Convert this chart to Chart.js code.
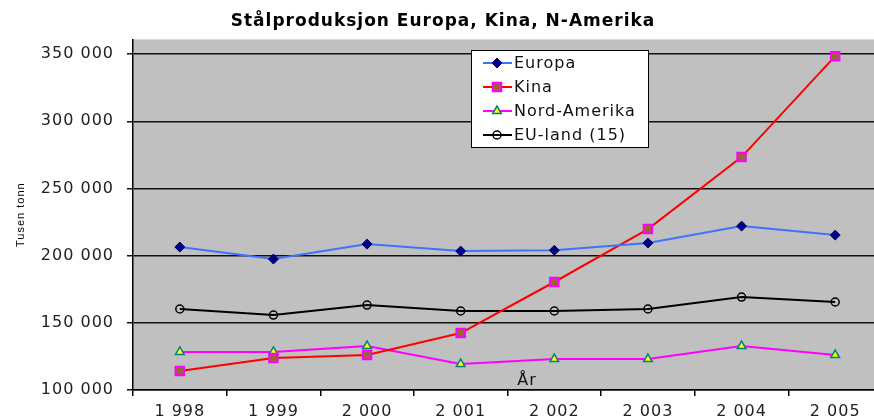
<!DOCTYPE html>
<html>
<head>
<meta charset="utf-8">
<script src="https://cdn.jsdelivr.net/npm/chart.js@4/dist/chart.umd.min.js"></script>
<style>
  html, body { margin: 0; padding: 0; background: #fff; overflow: hidden; width: 874px; height: 419px; }
  canvas { display: block; }
</style>
</head>
<body>
<canvas id="c" width="890" height="419"></canvas>
<script>
// data (tusen tonn)
const years = ['1 998', '1 999', '2 000', '2 001', '2 002', '2 003', '2 004', '2 005'];
const europa = [206400, 197500, 208600, 203400, 204000, 209400, 222000, 215300];
const kina = [114100, 123800, 126000, 142400, 180400, 219800, 273400, 348500];
const nordAmerika = [128300, 128300, 132700, 119300, 123000, 123000, 132700, 126000];
const euLand = [160300, 155800, 163200, 158800, 158800, 160300, 169200, 165500];
const yTicks = [100000, 150000, 200000, 250000, 300000, 350000];

const fmt = v => String(v).replace(/\B(?=(\d{3})+(?!\d))/g, ' ');
const tickFont = { family: 'DejaVu Sans', size: 16 };

// plot background, "År" label and the boxed legend
const decor = {
  id: 'decor',
  beforeDraw(chart) {
    const { ctx, chartArea: a } = chart;
    ctx.letterSpacing = '1px';
    ctx.save();
    ctx.fillStyle = '#c0c0c0';
    ctx.fillRect(a.left, a.top, a.right - a.left, a.bottom - a.top);
    ctx.restore();
  },
  afterDatasetsDraw(chart) {
    const ctx = chart.ctx;
    ctx.save();
    ctx.font = '16px "DejaVu Sans"';
    ctx.fillStyle = '#111';
    ctx.textAlign = 'center';
    ctx.textBaseline = 'middle';
    ctx.fillText('År', 527, 381);

    // legend box
    ctx.fillStyle = '#fff';
    ctx.fillRect(471, 50, 177, 97);
    ctx.strokeStyle = '#000';
    ctx.lineWidth = 1;
    ctx.strokeRect(471.5, 50.5, 177, 97);

    chart.data.datasets.forEach((ds, i) => {
      const y = 63 + i * 24;
      ctx.strokeStyle = ds.borderColor;
      ctx.lineWidth = 2;
      ctx.beginPath();
      ctx.moveTo(483, y);
      ctx.lineTo(512, y);
      ctx.stroke();
      ctx.fillStyle = ds.pointBackgroundColor;
      ctx.strokeStyle = ds.pointBorderColor;
      ctx.lineWidth = ds.pointBorderWidth;
      Chart.helpers.drawPoint(ctx, {
        pointStyle: ds.pointStyle, radius: ds.pointRadius, rotation: 0, borderWidth: ds.pointBorderWidth
      }, 497, y);
      ctx.fillStyle = '#111';
      ctx.textAlign = 'left';
      ctx.fillText(ds.label, 514, y + 1);
    });
    ctx.restore();
  }
};

new Chart(document.getElementById('c'), {
  type: 'line',
  data: {
    labels: years,
    datasets: [
      {
        label: 'Europa', data: europa,
        borderColor: '#3d73ff', borderWidth: 2,
        pointStyle: 'rectRot', pointRadius: 5,
        pointBackgroundColor: '#000080', pointBorderColor: '#000080', pointBorderWidth: 1
      },
      {
        label: 'Kina', data: kina,
        borderColor: '#ff0000', borderWidth: 2,
        pointStyle: 'rect', pointRadius: 6,
        pointBackgroundColor: '#996633', pointBorderColor: '#ff00ff', pointBorderWidth: 2
      },
      {
        label: 'Nord-Amerika', data: nordAmerika,
        borderColor: '#ff00ff', borderWidth: 2,
        pointStyle: 'triangle', pointRadius: 5,
        pointBackgroundColor: '#ffff00', pointBorderColor: '#008080', pointBorderWidth: 1.5
      },
      {
        label: 'EU-land (15)', data: euLand,
        borderColor: '#000000', borderWidth: 2,
        pointStyle: 'circle', pointRadius: 4,
        pointBackgroundColor: 'rgba(0,0,0,0)', pointBorderColor: '#000000', pointBorderWidth: 1.5
      }
    ]
  },
  options: {
    responsive: false,
    animation: false,
    layout: { padding: { right: 4 } },
    plugins: {
      legend: { display: false },
      tooltip: { enabled: false },
      title: {
        display: true,
        text: 'Stålproduksjon Europa, Kina, N-Amerika',
        color: '#000',
        font: { family: 'DejaVu Sans', size: 17, weight: 'bold' },
        padding: { top: 11, bottom: 8 }
      }
    },
    scales: {
      x: {
        offset: true,
        grid: { offset: true, drawOnChartArea: false, color: '#000', lineWidth: 1.5, tickLength: 6 },
        border: { color: '#000', width: 1.5 },
        ticks: { color: '#222', font: tickFont, padding: 6, maxRotation: 0, autoSkip: false },
        afterFit(scale) { scale.height = 29; }
      },
      y: {
        min: 100000,
        max: 361000,
        afterBuildTicks(scale) { scale.ticks = yTicks.map(v => ({ value: v })); },
        afterFit(scale) { scale.width = 133; },
        grid: { color: '#111', lineWidth: 1.5, tickLength: 6 },
        border: { color: '#000', width: 1.5 },
        ticks: { color: '#222', font: tickFont, padding: 13, callback: v => fmt(v) },
        title: {
          display: true, text: 'Tusen tonn', color: '#000',
          font: { family: 'Liberation Sans', size: 11 },
          padding: { top: 14, bottom: 0 }
        }
      }
    }
  },
  plugins: [decor]
});
</script>
</body>
</html>
